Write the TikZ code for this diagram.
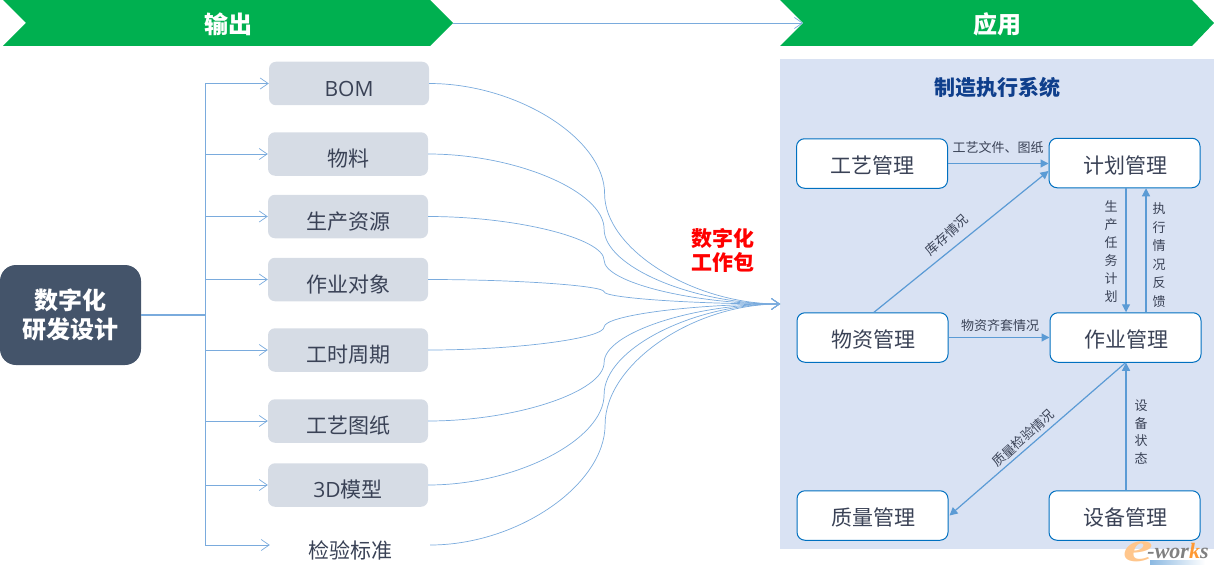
\documentclass[tikz,border=0pt]{standalone}
\usepackage{fontspec}
\setmainfont{Noto Sans CJK SC}
\newfontfamily\latinf{Open Sans}
\newfontfamily\logof{Liberation Serif}
\usetikzlibrary{arrows.meta,calc,shapes.geometric}
\definecolor{bgreen}{HTML}{00B050}
\definecolor{panelc}{HTML}{D9E2F3}
\definecolor{greyb}{HTML}{D6DCE5}
\definecolor{navy}{HTML}{44546A}
\definecolor{inkc}{HTML}{3A4256}
\definecolor{linec}{HTML}{5B9BD5}
\definecolor{branchc}{HTML}{7AABDD}
\definecolor{mesb}{HTML}{0070C0}
\definecolor{titlec}{HTML}{0F3F8C}
\newcommand\dn[1]{\raisebox{-5pt}[\height][\depth]{#1}}
\newcommand\dnn[1]{\hspace{1.5pt}\raisebox{-2pt}[\height][\depth]{#1}\hspace{-1.5pt}}
\tikzset{
  greybox/.style={fill=greyb,rounded corners=7pt,minimum width=160,minimum height=43.5,inner sep=0,text=inkc,font=\fontsize{21}{26}\selectfont},
  plainbox/.style={minimum width=160,minimum height=43.5,inner sep=0,text=inkc,font=\fontsize{21}{26}\selectfont},
  mesbox/.style={draw=mesb,line width=1pt,fill=white,rounded corners=8pt,minimum width=151,minimum height=49.5,inner sep=0,text=inkc,font=\fontsize{21}{26}\selectfont},
  branch/.style={draw=branchc,line width=.9pt,-{Straight Barb[length=8pt,width=11pt,line width=.7pt]}},
  flow/.style={draw=branchc,line width=.7pt,-{Straight Barb[length=8pt,width=11pt,line width=.7pt]}},
  mesarrow/.style={draw=linec,line width=1.2pt,-{Triangle[length=8pt,width=8pt]}},
  meslabel/.style={text=inkc,inner sep=0,font=\fontsize{13}{18}\selectfont,align=center},
  banner/.style={fill=bgreen,draw=none},
  bannertext/.style={text=white,inner sep=0,font=\fontsize{24}{28}\selectfont\bfseries},
}
\newcommand\curveconn[1]{%
  \draw[flow] let \p1=(#1.east),\p2=(hub) in
    (\p1) .. controls ({.75*\x1+.25*\x2},\y1) and ({.5*\x1+.5*\x2},{.75*\y1+.25*\y2}) ..
    ({.5*\x1+.5*\x2},{.5*\y1+.5*\y2}) .. controls ({.5*\x1+.5*\x2},{.25*\y1+.75*\y2}) and ({.25*\x1+.75*\x2},\y2) .. (\p2);}
\begin{document}
\begin{tikzpicture}[x=1pt,y=-1pt]
\useasboundingbox (0,0) rectangle (1214,575);
% banners
\fill[banner] (3,0) -- (430,0) -- (453,23) -- (430,46) -- (3,46) -- (26,23) -- cycle;
\fill[banner] (780,0) -- (1192,0) -- (1214,23) -- (1192,46) -- (780,46) -- (803,23) -- cycle;
\node[bannertext] (outt) at (228,24) {输出};
\node[bannertext] (appt) at (997,24) {应用};
\coordinate (bannerA) at (453,23);
\coordinate (bannerB) at (803,23);
\draw[branch,line width=.6pt] (bannerA) -- (bannerB);
% panel
\fill[panelc] (780,59) rectangle (1214,549);
\node[inner sep=0,text=titlec,font=\fontsize{21}{25}\selectfont\bfseries] (mes) at (997,87) {制造执行系统};
% source
\node[fill=navy,rounded corners=16pt,minimum width=141,minimum height=100,inner sep=0,text=white,align=center,font=\fontsize{24}{29}\selectfont\bfseries] (src) at (70.5,315) {数字化\\研发设计};
% outputs
\node[greybox] (bom) at (349,83.5) {\dn{\latinf BOM}};
\node[greybox] (wl) at (348,154) {\dn{物料}};
\node[greybox] (sc) at (348,216.5) {\dn{生产资源}};
\node[greybox] (zy) at (348,279.5) {\dn{作业对象}};
\node[greybox] (gs) at (348,350) {\dn{工时周期}};
\node[greybox] (gy) at (348,421) {\dn{工艺图纸}};
\node[greybox] (md) at (348,485) {\dn{{\latinf 3D}模型}};
\node[plainbox] (jy) at (350,545) {\dn{检验标准}};
% trunk
\coordinate (trunk) at (205,315);
\coordinate (hub) at (780,304);
\draw[draw=branchc,line width=1.2pt] (src.east) -- (trunk);
\foreach \bx in {bom,wl,sc,zy,gs,gy,md,jy}{\draw[branch] (trunk) |- (\bx.west);}
\foreach \bx in {bom,wl,sc,zy,gs,gy,md,jy}{\curveconn{\bx}}
\node[inner sep=0,text=red,align=center,font=\fontsize{21}{24}\selectfont\bfseries] (pkg) at (723,250) {数字化\\工作包};
% MES
\node[mesbox] (gygl) at (872,163.5) {\dnn{工艺管理}};
\node[mesbox] (jhgl) at (1124.5,163) {\dnn{计划管理}};
\node[mesbox] (wzgl) at (872.5,337.5) {\dnn{物资管理}};
\node[mesbox] (zygl) at (1125.5,337.5) {\dnn{作业管理}};
\node[mesbox] (zlgl) at (872.5,515.5) {\dnn{质量管理}};
\node[mesbox] (sbgl) at (1124.5,515.5) {\dnn{设备管理}};
\draw[mesarrow] (gygl.east) -- (gygl.east -| jhgl.west);
\draw[mesarrow] ($(wzgl.north)+(1.5,0)$) -- ($(jhgl.west)+(0,8)$);
\draw[mesarrow] ($(jhgl.south)+(1.5,0)$) -- ($(zygl.north)+(.5,0)$);
\draw[mesarrow] ($(zygl.north)+(20.5,0)$) -- ($(jhgl.south)+(21.5,0)$);
\draw[mesarrow] (wzgl.east) -- (zygl.west);
\draw[mesarrow] (zygl.south) -- ($(zlgl.east)+(1,0)$);
\draw[mesarrow] ($(sbgl.north)+(1.5,0)$) -- ($(zygl.south)+(.5,0)$);
\node[meslabel] (l1) at (998,148) {工艺文件、图纸};
\node[meslabel,rotate=42] (l2) at (947,235) {库存情况};
\node[meslabel] (l3) at (1111,252) {生\\产\\任\\务\\计\\划};
\node[meslabel,font=\fontsize{13}{18.6}\selectfont] (l4) at (1159,255) {执\\行\\情\\况\\反\\馈};
\node[meslabel] (l5) at (1000,326) {物资齐套情况};
\node[meslabel,rotate=42] (l6) at (1023,438) {质量检验情况};
\node[meslabel,font=\fontsize{13}{17.5}\selectfont] (l7) at (1141,432) {设\\备\\状\\态};
% logo
\node[inner sep=0,xscale=1.6,text=orange!45,font=\fontsize{42}{42}\selectfont\logof\bfseries\itshape] (loge) at (1138,552) {e};
\node[inner sep=0,text=black!50,font=\fontsize{22}{22}\selectfont\logof\bfseries\itshape] (logow) at (1178,551) {-wor{\color{orange!80}k}s};
\fill[left color=linec!70,right color=white,draw=none] (1150,560) rectangle (1205,564);
\end{tikzpicture}
\end{document}
